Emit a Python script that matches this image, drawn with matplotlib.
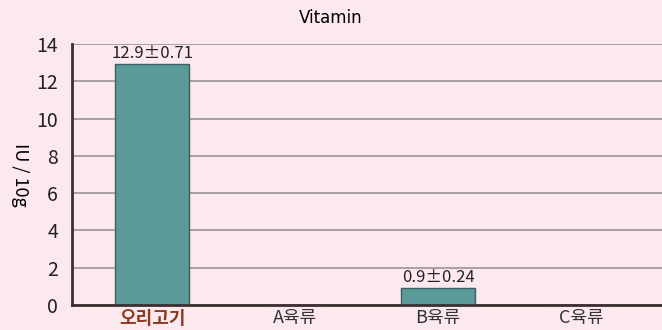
import numpy as np
import matplotlib.pyplot as plt

plt.rcParams['font.family'] = ['Noto Sans CJK KR', 'DejaVu Sans']

categories = ['오리고기', 'A육류', 'B육류', 'C육류']
means = [12.9, np.nan, 0.9, np.nan]
sds = [0.71, np.nan, 0.24, np.nan]
yticks = [0, 2, 4, 6, 8, 10, 12, 14]

bg = '#fce9ee'
fig = plt.figure(figsize=(6.62, 3.30), dpi=100, facecolor=bg)
ax = fig.add_axes([0.1088, 0.0758, 0.892, 0.7909])
ax.set_facecolor(bg)

x = np.arange(len(categories))
ax.set_axisbelow(True)
ax.grid(axis='y', color='#a8a0a3', linewidth=1.4)
ax.bar(x, np.nan_to_num(means), width=0.52, color='#5a9a98',
       edgecolor='#3f5f5e', linewidth=1)

# mean ± sd above each bar
for xi, m, s in zip(x, means, sds):
    if not np.isnan(m):
        ax.text(xi, m + 0.12, f'{m}±{s}', ha='center', va='bottom',
                fontsize=12, color='#222222')

ax.set_xlim(-0.56, 3.57)
ax.set_ylim(0, 14)
ax.set_yticks(yticks)
ax.set_xticks(x)
ax.set_xticklabels(categories)
ax.tick_params(axis='both', length=0, colors='#222222')
ax.tick_params(axis='x', pad=3, labelsize=13)
ax.tick_params(axis='y', pad=10, labelsize=14)
for lbl in ax.get_xticklabels()[1:]:
    lbl.set_color('#333333')
ax.get_xticklabels()[0].set_color('#8a3b22')
ax.get_xticklabels()[0].set_fontweight('bold')

for side in ['top', 'right']:
    ax.spines[side].set_visible(False)
for side in ['left', 'bottom']:
    ax.spines[side].set_color('#3a3030')
    ax.spines[side].set_linewidth(2)

ax.set_ylabel('IU / 10g', rotation=-90, fontsize=13, labelpad=18, va='bottom')
fig.text(0.5, 0.945, 'Vitamin', ha='center', va='center', fontsize=12,
         family=['DejaVu Sans'])

fig.savefig('out.png', dpi=100, facecolor=bg)
